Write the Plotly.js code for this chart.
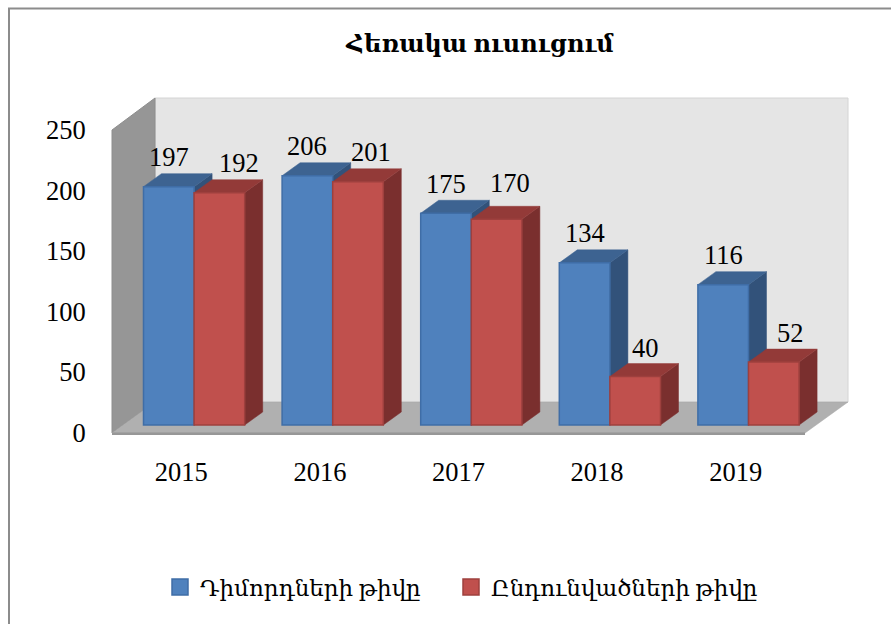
<!DOCTYPE html>
<html>
<head>
<meta charset="utf-8">
<script src="https://cdn.plot.ly/plotly-3.0.1.min.js"></script>
<style>html,body{margin:0;padding:0;background:#fff}#c{width:891px;height:624px}</style>
</head>
<body>
<div id="c"></div>
<script>
// ---- data ----
const years = ['2015','2016','2017','2018','2019'];
const applicants = [197,206,175,134,116];
const admitted = [192,201,170,40,52];
const seriesNames = ['Դիմորդների թիվը','Ընդունվածների թիվը'];
const chartTitle = 'Հեռակա ուսուցում';
const yTicks = [0,50,100,150,200,250];
const labelDxA = [0,0,0,0,0];
const labelDxB = [20,13,13,10,17];
const labelDyA = [30,30,29,30,30];
const labelDyB = [30,30,36,29,29];

// ---- geometry, in axis units ----
const W=891,H=624,L=108,R=855,T=90,B=440;
const pxX=138.6, pxY=1.21;           // pixels per category, pixels per value
const u=p=>p/pxX, v=p=>p/pxY;
const xRange=[u(L-112),u(R-112)];
const yRange=[v(432.5-B),v(432.5-T)];
const barBase=v(7.5), barW=u(50.6), barOff=u(-37.8), sideDx=u(18), sideDy=v(13);
const centers=years.map((_,i)=>i+0.5);

const poly=(pts,fill,line,lw)=>({type:'path',xref:'x',yref:'y',layer:'below',
  path:'M'+pts.map(p=>p[0]+','+p[1]).join('L')+'Z',
  fillcolor:fill,line:{color:line||fill,width:lw===undefined?0.5:lw}});
const px=(x,y)=>[u(x-112),v(432.5-y)];

const shapes=[
  poly([px(155,98),px(848,98),px(848,402),px(155,402)],'#E5E5E5','#D4D4D4',1),
  poly([px(112,130),px(155,98),px(155,402),px(112,433)],'#969696','#8E8E8E',1),
  poly([px(112,433),px(155,402),px(848,402),px(805,433)],'#B0B0B0','#A6A6A6',0.5),
  poly([px(112,432.5),px(805,432.5),px(805,435),px(112,435)],'#979797','#979797',0)
];
function sides(vals,off,topCol,sideCol){
  vals.forEach((val,i)=>{
    const x0=centers[i]+off, x1=x0+barW, y0=barBase, y1=barBase+val;
    shapes.push(poly([[x1,y0],[x1+sideDx,y0+sideDy],[x1+sideDx,y1+sideDy],[x1,y1]],sideCol));
    shapes.push(poly([[x0,y1],[x0+sideDx,y1+sideDy],[x1+sideDx,y1+sideDy],[x1,y1]],topCol));
  });
}
sides(applicants,barOff,'#3D6391','#32527A');
sides(admitted,barOff+barW,'#933A38','#7A2F2E');

// frame of the picture
const fx=p=>(p-L)/(R-L), fy=p=>(B-p)/(B-T);
shapes.push({type:'line',xref:'paper',yref:'paper',x0:fx(9),x1:fx(9),y0:fy(8),y1:fy(624),line:{color:'#8C8C8C',width:2}});
shapes.push({type:'line',xref:'paper',yref:'paper',x0:fx(8),x1:fx(891),y0:fy(8.5),y1:fy(8.5),line:{color:'#8C8C8C',width:2}});

const font='"Liberation Serif","DejaVu Serif",serif';
const annos=[];
function labels(vals,off,dx,dy){
  vals.forEach((val,i)=>annos.push({xref:'x',yref:'y',x:centers[i]+off+barW/2,y:barBase+val,text:String(val),
    showarrow:false,xanchor:'center',yanchor:'middle',xshift:dx[i],yshift:dy[i],font:{family:font,size:26.5,color:'#000'}}));
}
labels(applicants,barOff,labelDxA,labelDyA);
labels(admitted,barOff+barW,labelDxB,labelDyB);

const barTrace=(name,vals,off,col,edge)=>({type:'bar',name:name,x:centers,y:vals,base:barBase,width:barW,offset:off,
  marker:{color:col,line:{color:edge,width:1.5}},hoverinfo:'x+y',showlegend:false});
const keyTrace=(name,col,edge,lg)=>({type:'scatter',mode:'markers',name:name,x:[null],y:[null],legend:lg,showlegend:true,
  marker:{symbol:'square',size:16,color:col,line:{color:edge,width:1.5}}});

const data=[
  barTrace(seriesNames[0],applicants,barOff,'#4F81BD','#3F6DA6'),
  barTrace(seriesNames[1],admitted,barOff+barW,'#C0504D','#9E403E'),
  keyTrace(seriesNames[0],'#4F81BD','#3F6DA6','legend'),
  keyTrace(seriesNames[1],'#C0504D','#9E403E','legend2')
];
const legendStyle=x=>({orientation:'h',x:fx(x),xanchor:'left',y:fy(587),yanchor:'middle',
  font:{family:font,size:23,color:'#000'},bgcolor:'rgba(0,0,0,0)',itemwidth:30});
const layout={
  width:W,height:H,paper_bgcolor:'#fff',plot_bgcolor:'rgba(0,0,0,0)',
  margin:{l:L,r:W-R,t:T,b:H-B,pad:0},
  barmode:'overlay',
  title:{text:'<b>'+chartTitle+'</b>',x:480/W,xanchor:'center',y:1-44/H,yanchor:'middle',font:{family:font,size:24,color:'#000'}},
  xaxis:{range:xRange,tickmode:'array',tickvals:centers,ticktext:years,showgrid:false,zeroline:false,showline:false,
    ticks:'outside',ticklen:8,tickcolor:'rgba(0,0,0,0)',tickfont:{family:font,size:26.5,color:'#000'}},
  yaxis:{range:yRange,tickmode:'array',tickvals:yTicks,showgrid:false,zeroline:false,showline:false,
    ticks:'outside',ticklen:16,tickcolor:'rgba(0,0,0,0)',tickfont:{family:font,size:26.5,color:'#000'}},
  shapes:shapes,annotations:annos,
  showlegend:true,
  legend:legendStyle(160),
  legend2:legendStyle(451)
};
Plotly.newPlot('c',data,layout,{displayModeBar:false,staticPlot:true});
</script>
</body>
</html>
